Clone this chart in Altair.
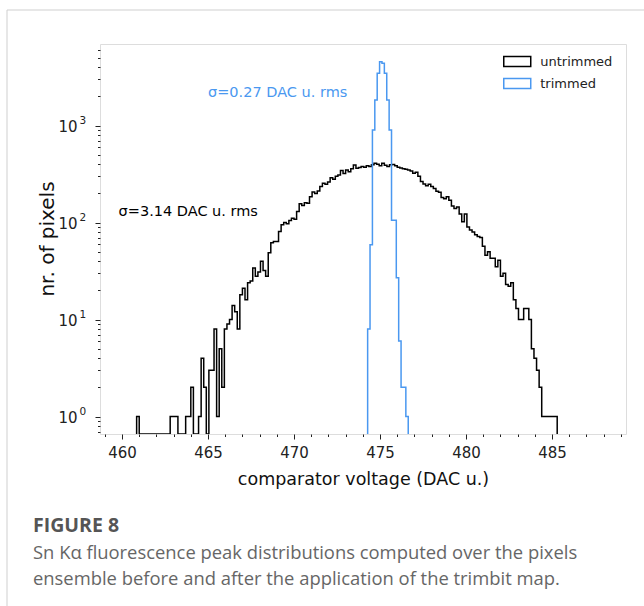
import altair as alt
import pandas as pd

# ---------------- data ----------------
series_names = ["untrimmed", "trimmed"]
series_colors = ["#000000", "#4a98f0"]

untrimmed_start = 460.85
untrimmed_width = 0.15
untrimmed_counts = [
    1, 0, 0, 0, 0, 0, 0, 0, 0, 0, 0, 0, 0, 1, 1, 1, 0, 0, 0, 1,
    1, 2, 0, 0, 1, 4, 2, 0, 3, 3, 8, 1, 5, 2, 8, 9, 10, 14, 12, 8,
    18, 21, 16, 24, 25, 34, 28, 31, 40, 32, 28, 49, 62, 64, 64, 81, 95, 100, 97, 105,
    111, 108, 130, 156, 150, 160, 158, 185, 207, 200, 212, 235, 255, 248, 262, 290, 280, 300, 310, 345,
    320, 349, 335, 360, 393, 363, 370, 380, 372, 385, 378, 395, 409, 400, 385, 410, 390, 380, 395, 398,
    385, 372, 365, 360, 355, 349, 340, 323, 330, 300, 265, 250, 240, 248, 235, 225, 210, 205, 182, 176,
    185, 170, 148, 140, 145, 123, 102, 123, 90, 84, 80, 75, 72, 70, 57, 46, 50, 43, 43, 35,
    41, 28, 30, 23, 22, 24, 16, 13, 10, 10, 13, 13, 10, 5, 4, 3, 2, 1, 1, 1,
    1, 1, 1,
]

trimmed_start = 474.28
trimmed_width = 0.1388
trimmed_counts = [8, 59, 900, 1840, 3470, 4570, 4400, 3470, 1840, 903, 106, 106, 27, 6, 2, 2, 1]

annot_text = ["σ=0.27 DAC u. rms", "σ=3.14 DAC u. rms"]
annot_x = [465.0, 459.8]
annot_y = [2160, 130]
annot_series = ["trimmed", "untrimmed"]

x_domain = [458.72, 489.3]
y_domain = [0.66, 6950]
x_major = [460, 465, 470, 475, 480, 485]
x_minor = [459, 461, 462, 463, 464, 466, 467, 468, 469, 471, 472, 473, 474, 476, 477, 478,
           479, 481, 482, 483, 484, 486, 487, 488, 489]
y_major = [1, 10, 100, 1000]
y_major_base = ["10", "10", "10", "10"]
y_major_exp = ["0", "1", "2", "3"]
y_minor = [0.7, 0.8, 0.9, 2, 3, 4, 5, 6, 7, 8, 9, 20, 30, 40, 50, 60, 70, 80, 90,
           200, 300, 400, 500, 600, 700, 800, 900, 2000, 3000, 4000, 5000, 6000]

x_title = "comparator voltage (DAC u.)"
y_title = "nr. of pixels"
caption_title = "FIGURE 8"
caption_lines = ["Sn Kα fluorescence peak distributions computed over the pixels",
                 "ensemble before and after the application of the trimbit map."]

FLOOR = 0.1  # zero counts, clamped to the bottom of the log axis


def step_rows(name, start, width, counts):
    rows = [{"series": name, "x": start, "y": FLOOR, "i": 0}]
    for k, c in enumerate(counts):
        rows.append({"series": name, "x": start + k * width,
                     "y": c if c > 0 else FLOOR, "i": k + 1})
    rows.append({"series": name, "x": start + len(counts) * width,
                 "y": FLOOR, "i": len(counts) + 1})
    return rows


df = pd.DataFrame(
    step_rows("untrimmed", untrimmed_start, untrimmed_width, untrimmed_counts)
    + step_rows("trimmed", trimmed_start, trimmed_width, trimmed_counts)
)
annot = pd.DataFrame({"text": annot_text, "x": annot_x, "y": annot_y, "series": annot_series})
ylab = pd.DataFrame({"y": y_major, "base": y_major_base, "exp": y_major_exp})
one = pd.DataFrame({"a": [0]})

FONT = "DejaVu Sans"
CAP_FONT = "Open Sans"

xscale = alt.Scale(domain=x_domain, nice=False, zero=False)
yscale = alt.Scale(type="log", domain=y_domain, nice=False, clamp=True)
cscale = alt.Scale(domain=series_names, range=series_colors)

x_axis_major = alt.Axis(
    values=x_major, title=x_title, orient="bottom",
    domain=False, grid=False, labelOverlap=False, labelFlush=False,
    tickSize=5, tickColor="#222", labelColor="#222", labelFont=FONT, labelFontSize=15,
    labelPadding=6, titleFont=FONT, titleFontSize=17.5, titleFontWeight="normal",
    titleColor="#111", titlePadding=10,
)
y_axis_major = alt.Axis(
    values=y_major, title=None, orient="left", labels=False,
    domain=False, grid=False, tickSize=5, tickColor="#222",
)
x_axis_minor = alt.Axis(values=x_minor, title=None, orient="bottom", labels=False,
                        domain=False, grid=False, tickSize=2.5, tickColor="#222")
y_axis_minor = alt.Axis(values=y_minor, title=None, orient="left", labels=False,
                        domain=False, grid=False, tickSize=2.5, tickColor="#222")

lines = alt.Chart(df).mark_line(interpolate="step-after", strokeWidth=1.5, clip=True).encode(
    x=alt.X("x:Q", scale=xscale, axis=x_axis_major),
    y=alt.Y("y:Q", scale=yscale, axis=y_axis_major),
    color=alt.Color(
        "series:N", scale=cscale,
        legend=alt.Legend(
            title=None, orient="none", legendX=409.75, legendY=10, padding=0,
            symbolType="M-2,-0.74L2,-0.74L2,0.74L-2,0.74Z", symbolSize=182,
            symbolFillColor="transparent", symbolStrokeWidth=1.5,
            labelFont=FONT, labelFontSize=13, labelColor="#222",
            labelOffset=15.5, rowPadding=5,
        ),
    ),
    order="i:Q",
)

minor_axes = alt.Chart(df).mark_point(opacity=0).encode(
    x=alt.X("x:Q", scale=xscale, axis=x_axis_minor),
    y=alt.Y("y:Q", scale=yscale, axis=y_axis_minor),
)

# y tick labels: "10" with a raised exponent
ylab_base = alt.Chart(ylab).mark_text(
    align="right", baseline="middle", font=FONT, fontSize=15, color="#222", dy=1
).encode(x=alt.value(-22.5), y=alt.Y("y:Q", scale=yscale, axis=None), text="base:N")
ylab_exp = alt.Chart(ylab).mark_text(
    align="left", baseline="middle", font=FONT, fontSize=10.5, color="#222", dy=-4.5
).encode(x=alt.value(-20.5), y=alt.Y("y:Q", scale=yscale, axis=None), text="exp:N")

ytitle = alt.Chart(pd.DataFrame({"t": [y_title]})).mark_text(
    align="center", baseline="alphabetic", angle=270, font=FONT, fontSize=20, color="#111"
).encode(x=alt.value(-46), y=alt.value(195), text="t:N")


def annot_layer(series, color):
    return alt.Chart(annot).transform_filter(alt.datum.series == series).mark_text(
        align="left", baseline="middle", font=FONT, fontSize=14.5, color=color
    ).encode(
        x=alt.X("x:Q", scale=xscale, axis=None),
        y=alt.Y("y:Q", scale=yscale, axis=None),
        text="text:N",
    )


texts_blue = annot_layer("trimmed", series_colors[1])
texts_black = annot_layer("untrimmed", series_colors[0])

border_top = alt.Chart(one).mark_rule(color="#cfcfcf", strokeWidth=1).encode(
    x=alt.value(-93), x2=alt.value(544), y=alt.value(-34))
border_left = alt.Chart(one).mark_rule(color="#cfcfcf", strokeWidth=1).encode(
    x=alt.value(-93), y=alt.value(-34), y2=alt.value(562))

cap_title = alt.Chart(pd.DataFrame({"t": [caption_title]})).mark_text(
    align="left", baseline="middle", font=CAP_FONT, fontSize=19.5, fontWeight="bold", color="#555"
).encode(x=alt.value(-67), y=alt.value(482), text="t:N")
cap_l1 = alt.Chart(pd.DataFrame({"t": [caption_lines[0]]})).mark_text(
    align="left", baseline="middle", font=CAP_FONT, fontSize=18.4, color="#666"
).encode(x=alt.value(-67), y=alt.value(509), text="t:N")
cap_l2 = alt.Chart(pd.DataFrame({"t": [caption_lines[1]]})).mark_text(
    align="left", baseline="middle", font=CAP_FONT, fontSize=18.4, color="#666"
).encode(x=alt.value(-67), y=alt.value(535), text="t:N")

chart = alt.layer(
    border_top, border_left, minor_axes, lines, texts_black, texts_blue,
    ylab_base, ylab_exp, ytitle, cap_title, cap_l1, cap_l2,
).resolve_axis(x="independent", y="independent").properties(
    width=526, height=390,
    padding={"left": 100, "top": 44, "right": 18, "bottom": 172},
    autosize=alt.AutoSizeParams(type="none"),
).configure_view(stroke="#333", strokeWidth=1).configure(background="white")

chart.save("out.html", embed_options={"renderer": "svg", "actions": False})
